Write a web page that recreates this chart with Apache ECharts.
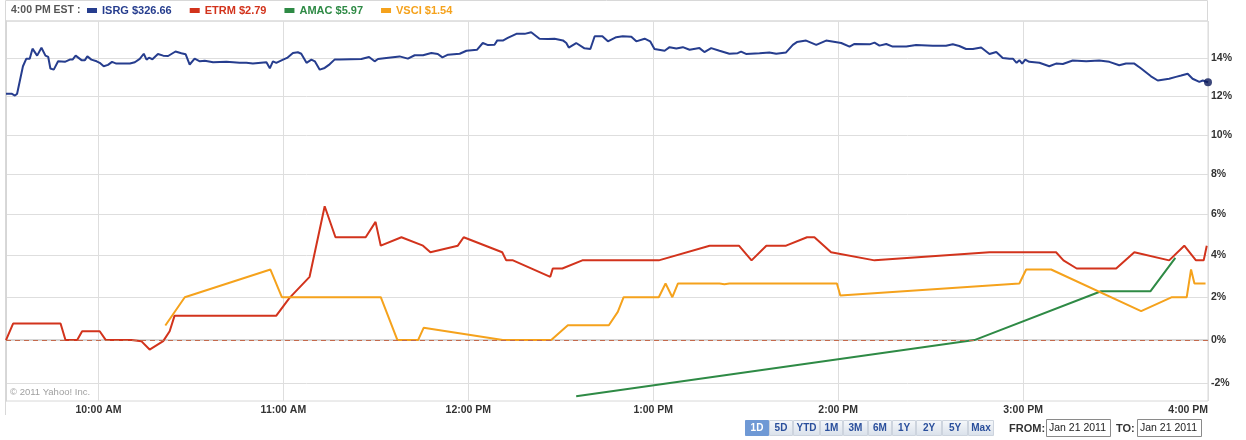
<!DOCTYPE html>
<html>
<head>
<meta charset="utf-8">
<script src="https://cdn.jsdelivr.net/npm/echarts@6/dist/echarts.min.js"></script>
<style>
  html, body { margin: 0; padding: 0; background: #fff; }
  #chart { width: 1246px; height: 440px; }
</style>
</head>
<body>
<div id="chart"></div>
<script>
// minutes after 9:30 AM, % change
const isrg = [[0,12.12],[1.8,12.12],[2.9,12.02],[3.6,12.12],[5.5,13.56],[6.6,13.96],[7.7,13.96],[8.6,14.49],[10.1,14.12],[11.5,14.54],
  [12.8,14.12],[13.7,14.05],[14.4,13.44],[15.5,13.38],[16.9,13.82],[19.1,13.79],[20.7,13.91],[21.6,13.91],[22.6,14.12],[24.5,13.88],
  [25.6,13.88],[26.4,14.08],[27.7,13.91],[29.4,13.82],[30.4,13.74],[31.7,13.56],[33.1,13.63],[34.4,13.79],[35.8,13.70],[40.2,13.70],
  [41.8,13.77],[43.4,13.95],[44.7,14.22],[45.6,13.91],[46.4,14.01],[47.5,13.93],[49.3,14.21],[51.0,14.12],[52.6,14.10],[55.0,14.34],
  [56.9,14.25],[58.3,14.19],[59.6,13.65],[61.2,13.96],[62.9,13.82],[64.5,13.85],[67.2,13.77],[71.5,13.80],[73.7,13.77],[75.8,13.74],
  [78.0,13.74],[80.1,13.70],[84.5,13.77],[85.6,13.45],[86.6,13.82],[87.7,13.74],[89.9,13.91],[91.2,14.00],[93.1,14.26],[94.7,14.30],
  [95.8,14.22],[97.5,13.74],[99.1,13.91],[100.2,13.82],[101.8,13.38],[103.4,13.47],[105.0,13.66],[106.6,13.91],[108.3,13.91],[115.3,13.94],
  [117.8,14.05],[119.6,13.82],[120.7,13.94],[123.4,14.00],[127.7,14.08],[130.4,13.96],[132.6,14.14],[135.3,14.14],[138.0,14.26],[140.1,14.21],
  [141.6,14.03],[143.4,14.17],[147.2,14.22],[149.4,14.38],[152.8,14.43],[154.7,14.79],[156.4,14.68],[158.5,14.70],[159.4,14.93],[161.2,14.92],
  [162.8,15.06],[165.6,15.28],[168.3,15.28],[170.4,15.37],[173.1,15.02],[175.8,15.00],[178.0,15.02],[180.7,14.93],[181.8,14.79],[182.6,14.55],
  [185.0,14.79],[187.7,14.51],[189.6,14.47],[191.0,15.15],[193.5,15.15],[195.3,14.88],[198.0,15.10],[200.1,15.15],[202.9,15.12],[204.5,14.88],
  [207.2,15.02],[209.0,14.88],[210.4,14.47],[213.7,14.38],[215.3,14.57],[217.5,14.50],[219.6,14.57],[221.8,14.43],[225.0,14.52],[226.6,14.31],
  [228.8,14.52],[231.5,14.38],[234.7,14.22],[237.4,14.25],[238.5,14.33],[240.1,14.21],[244.5,14.25],[247.7,14.29],[249.9,14.22],[253.1,14.29],
  [255.3,14.69],[256.6,14.84],[259.6,14.92],[262.9,14.69],[266.1,14.92],[271.0,14.79],[273.7,14.60],[275.3,14.74],[280.2,14.72],[281.8,14.81],
  [283.4,14.65],[285.6,14.74],[287.7,14.60],[292.1,14.60],[295.3,14.69],[300.7,14.65],[305.0,14.65],[307.2,14.72],[309.3,14.63],[311.5,14.47],
  [313.7,14.47],[316.4,14.55],[319.1,14.21],[321.3,14.31],[323.4,14.00],[325.6,13.95],[326.7,13.96],[327.9,13.74],[328.8,13.88],[329.7,13.70],
  [330.7,13.91],[332.0,13.79],[335.3,13.74],[338.5,13.56],[340.7,13.70],[342.9,13.68],[346.1,13.86],[350.5,13.82],[354.7,13.86],[358.0,13.79],
  [361.2,13.61],[363.4,13.70],[366.1,13.70],[368.3,13.44],[371.5,13.03],[373.7,12.81],[377.4,12.90],[379.6,13.00],[381.3,13.07],[383.4,13.16],
  [385.0,12.90],[387.2,12.74],[388.3,12.81],[390,12.72]]

const etrm = [[0,0],[2.3,0.77],[17.7,0.77],[19.3,0],[23.1,0],[24.7,0.41],[30.4,0.41],[32.4,0],[40.7,0],[43.9,-0.05],
  [46.6,-0.44],[51.0,-0.05],[53.1,0.41],[54.7,1.14],[87.7,1.14],[92.0,1.98],[98.5,2.98],[103.4,6.41],[106.9,4.89],[116.7,4.89],
  [119.9,5.64],[121.6,4.48],[128.3,4.89],[135.3,4.48],[137.7,4.16],[146.6,4.48],[148.5,4.89],[161.0,4.16],[162.3,3.77],[164.5,3.77],
  [176.6,2.98],[177.4,3.38],[180.5,3.38],[187.0,3.77],[211.8,3.77],[228.3,4.48],[237.8,4.48],[241.9,3.77],[246.7,4.48],[253.1,4.48],
  [259.9,4.89],[262.3,4.89],[267.7,4.16],[281.8,3.77],[319.1,4.16],[340.7,4.16],[343.1,3.77],[347.4,3.38],[360.2,3.38],[366.1,4.16],
  [377.4,3.77],[382.3,4.48],[386.1,3.77],[388.6,3.77],[389.6,4.48]]

const amac = [[185.0,-2.58],[314.2,0],[355.3,2.29],[371.3,2.29],[379.4,3.89]]

const vsci = [[51.7,0.68],[58.0,2.01],[85.8,3.33],[89.5,2.01],[121.6,2.01],[127.0,0],[133.7,0],[135.5,0.57],[161.2,0],[176.9,0],
  [182.3,0.69],[195.6,0.69],[198.5,1.32],[200.4,2.01],[211.8,2.01],[214.0,2.66],[216.2,2.01],[218.0,2.66],[231.5,2.66],[233.1,2.63],
  [234.7,2.66],[269.6,2.66],[270.7,2.09],[328.8,2.66],[331.0,3.33],[339.1,3.33],[368.3,1.35],[378.3,2.01],[383.1,2.01],[384.5,3.33],
  [385.6,2.66],[389.2,2.66]]

const tickers = ['ISRG', 'ETRM', 'AMAC', 'VSCI']
const prices = ['$326.66', '$2.79', '$5.97', '$1.54']
const xTickMin = [30, 90, 150, 210, 270, 330, 390]
const xTickLabels = ['10:00 AM', '11:00 AM', '12:00 PM', '1:00 PM', '2:00 PM', '3:00 PM', '4:00 PM']
const yTicks = [-2, 0, 2, 4, 6, 8, 10, 12, 14]
const rangeBtns = ['1D', '5D', 'YTD', '1M', '3M', '6M', '1Y', '2Y', '5Y', 'Max']

const FONT = '"Liberation Sans", Arial, sans-serif'
const colors = ['#263d8e', '#d2331c', '#2e8a45', '#f5a21c']
const GRIDC = '#dedede'

// chart uses a log scale of price ratio, labelled in %
const toLog = p => Math.log(1 + p / 100)
const fromLog = v => (Math.exp(v) - 1) * 100

const chart = echarts.init(document.getElementById('chart'))

// range buttons + date boxes
const btnX = [745, 769, 793, 820, 843, 868, 892, 916, 942, 968, 994]
const graphics = [
  { type: 'rect', silent: true, shape: { x: 5.5, y: 0.5, width: 1202, height: 20.5 }, style: { fill: 'none', stroke: '#d8d8d8' } },
  { type: 'line', silent: true, shape: { x1: 5.5, y1: 21, x2: 5.5, y2: 415 }, style: { stroke: '#d8d8d8' } },
  { type: 'text', silent: true, style: { x: 10, y: 392, text: '© 2011 Yahoo! Inc.', fill: '#a0a0a0', font: '9.5px ' + FONT, verticalAlign: 'middle', textVerticalAlign: 'middle' } }
]
rangeBtns.forEach((b, i) => {
  const active = i === 0
  graphics.push({
    type: 'rect', silent: true,
    shape: { x: btnX[i] + 0.5, y: 420.5, width: btnX[i + 1] - btnX[i] - 1, height: 15 },
    style: {
      fill: active ? '#6f99d5' : new echarts.graphic.LinearGradient(0, 0, 0, 1, [{ offset: 0, color: '#f6f8fb' }, { offset: 1, color: '#d9e0ea' }]),
      stroke: active ? '#6f99d5' : '#cdd4de'
    }
  })
  graphics.push({
    type: 'text', silent: true,
    style: {
      x: (btnX[i] + btnX[i + 1]) / 2, y: 428.5, text: b,
      fill: active ? '#ffffff' : '#2a4f9c', font: 'bold 10px ' + FONT,
      align: 'center', textAlign: 'center', verticalAlign: 'middle', textVerticalAlign: 'middle'
    }
  })
})
const dateBox = (label, lx, bx) => {
  graphics.push({ type: 'text', silent: true, style: { x: lx, y: 428.5, text: label, fill: '#333', font: 'bold 11px ' + FONT, verticalAlign: 'middle', textVerticalAlign: 'middle' } })
  graphics.push({ type: 'rect', silent: true, shape: { x: bx + 0.5, y: 419.5, width: 64, height: 17 }, style: { fill: '#fff', stroke: '#8a8a8a' } })
  graphics.push({ type: 'text', silent: true, style: { x: bx + 3, y: 428.5, text: 'Jan 21 2011', fill: '#222', font: '10.5px ' + FONT, verticalAlign: 'middle', textVerticalAlign: 'middle' } })
}
dateBox('FROM:', 1009, 1046)
dateBox('TO:', 1116, 1137)

const seriesData = [isrg, etrm, amac, vsci]
const series = seriesData.map((d, i) => ({
  name: tickers[i],
  type: 'line',
  data: d.map(([m, p]) => [m, toLog(p)]),
  showSymbol: false,
  symbol: 'none',
  lineStyle: { width: 2, color: colors[i] },
  itemStyle: { color: colors[i] },
  animation: false
}))
series[0].markLine = {
  silent: true,
  symbol: 'none',
  animation: false,
  label: { show: false },
  lineStyle: { color: '#c46a4c', type: [5, 4], width: 1 },
  data: [{ yAxis: 0 }]
}
const lastIsrg = isrg[isrg.length - 1]
series.push({
  type: 'scatter',
  data: [[lastIsrg[0], toLog(lastIsrg[1])]],
  symbolSize: 8,
  itemStyle: { color: '#0c1a5a' },
  animation: false,
  z: 4
})

chart.setOption({
  animation: false,
  title: {
    text: '4:00 PM EST :',
    left: 6, top: 0,
    textStyle: { fontSize: 10.5, fontWeight: 'bold', color: '#555', fontFamily: FONT }
  },
  legend: {
    data: tickers.map((t, i) => ({ name: t, icon: 'rect', textStyle: { color: colors[i] } })),
    left: 82, top: 0,
    itemWidth: 10, itemHeight: 5, itemGap: 18,
    selectedMode: false,
    formatter: name => name + ' ' + prices[tickers.indexOf(name)],
    textStyle: { fontSize: 11, fontWeight: 'bold', fontFamily: FONT }
  },
  grid: { left: 6, right: 38, top: 21, bottom: 39, show: true, borderColor: '#d8d8d8', borderWidth: 1 },
  xAxis: {
    type: 'value', min: 0, max: 390,
    axisLine: { show: true, lineStyle: { color: '#d6d6d6', width: 2 } },
    axisTick: { show: false, customValues: xTickMin },
    splitLine: { show: true, lineStyle: { color: GRIDC } },
    axisLabel: {
      customValues: xTickMin,
      formatter: v => xTickLabels[xTickMin.indexOf(v)],
      alignMaxLabel: 'right',
      margin: 4,
      fontSize: 10.5, fontWeight: 'bold', color: '#333', fontFamily: FONT
    }
  },
  yAxis: {
    type: 'value', position: 'right',
    min: toLog(-2.79), max: toLog(15.97),
    axisLine: { show: true, lineStyle: { color: '#d6d6d6' } },
    axisTick: { show: false, customValues: yTicks.map(toLog) },
    splitLine: { show: true, lineStyle: { color: GRIDC } },
    axisLabel: {
      customValues: yTicks.map(toLog),
      formatter: v => Math.round(fromLog(v)) + '%',
      margin: 3,
      fontSize: 10.5, fontWeight: 'bold', color: '#333', fontFamily: FONT
    }
  },
  graphic: graphics,
  series
})
</script>
</body>
</html>
